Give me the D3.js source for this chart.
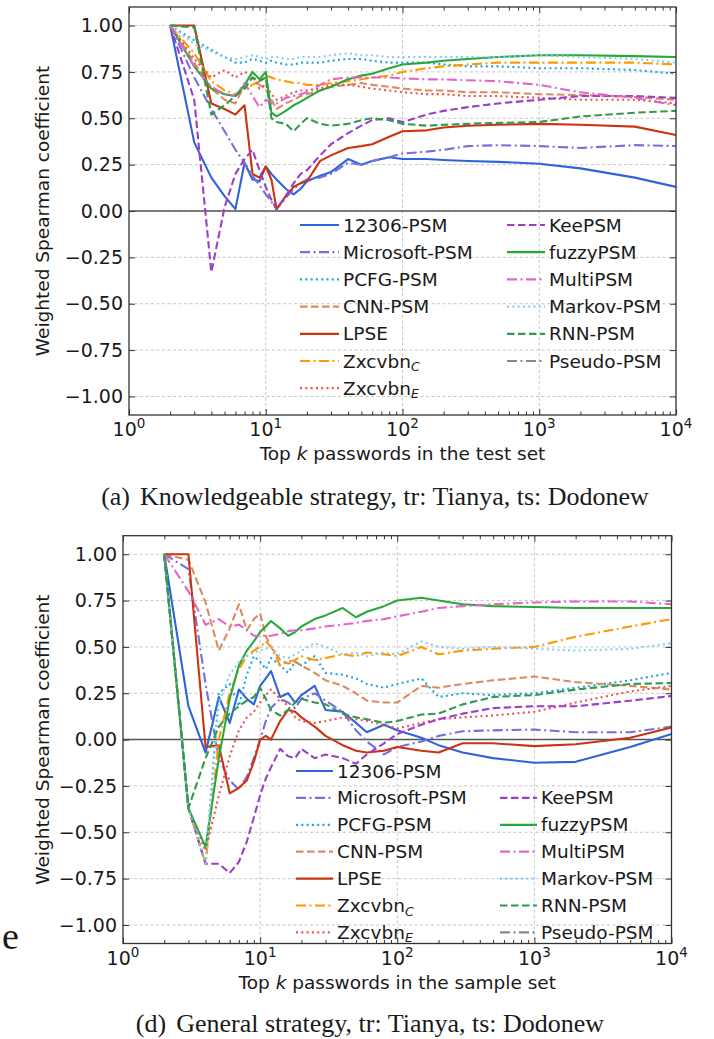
<!DOCTYPE html>
<html>
<head>
<meta charset="utf-8">
<script src="https://cdn.jsdelivr.net/npm/d3@7"></script>
<style>
  body { margin: 0; background: #fff; }
  svg { display: block; }
  text { font-family: "DejaVu Sans", sans-serif; fill: #1a1a1a; }
</style>
</head>
<body>
<svg id="chart" width="714" height="1039"></svg>
<script>
// ---- data ----
const kValues = [2, 3, 4, 5, 6, 7, 8, 9, 10, 11, 12, 14, 16, 18, 20, 25, 30, 40, 50, 60, 80, 100, 150, 200, 300, 500, 1000, 2000, 5000, 10000];
const seriesNames = ["12306-PSM", "Microsoft-PSM", "PCFG-PSM", "CNN-PSM", "LPSE", "Zxcvbn_C", "Zxcvbn_E",
  "KeePSM", "fuzzyPSM", "MultiPSM", "Markov-PSM", "RNN-PSM", "Pseudo-PSM"];
const xTicks = [1, 10, 100, 1000, 10000];
const yTicks = [-1, -0.75, -0.5, -0.25, 0, 0.25, 0.5, 0.75, 1];

// (a) knowledgeable strategy
const a12306 = [1.00, 0.37, 0.18, 0.08, 0.01, 0.26, 0.17, 0.16, 0.24, 0.20, 0.17, 0.12, 0.09, 0.12, 0.16, 0.19, 0.21, 0.28, 0.25, 0.27, 0.29, 0.28, 0.28, 0.275, 0.27, 0.265, 0.255, 0.23, 0.18, 0.13];
const aMicrosoft = [1.00, 0.72, 0.55, 0.43, 0.33, 0.26, 0.19, 0.14, 0.09, 0.05, 0.01, 0.07, 0.12, 0.15, 0.17, 0.18, 0.20, 0.26, 0.25, 0.27, 0.29, 0.31, 0.32, 0.33, 0.35, 0.355, 0.35, 0.34, 0.355, 0.35];
const aPCFG = [1.00, 0.92, 0.87, 0.83, 0.80, 0.80, 0.82, 0.81, 0.80, 0.81, 0.80, 0.79, 0.79, 0.80, 0.80, 0.80, 0.81, 0.82, 0.82, 0.81, 0.80, 0.80, 0.80, 0.79, 0.78, 0.78, 0.77, 0.77, 0.76, 0.74];
const aCNN = [1.00, 0.80, 0.66, 0.60, 0.58, 0.68, 0.72, 0.68, 0.66, 0.60, 0.55, 0.58, 0.60, 0.62, 0.63, 0.65, 0.67, 0.68, 0.69, 0.68, 0.67, 0.66, 0.65, 0.65, 0.64, 0.64, 0.63, 0.625, 0.615, 0.60];
const aLPSE = [1.00, 1.00, 0.58, 0.55, 0.52, 0.57, 0.20, 0.18, 0.24, 0.17, 0.01, 0.08, 0.13, 0.15, 0.16, 0.27, 0.30, 0.34, 0.35, 0.36, 0.40, 0.43, 0.435, 0.45, 0.46, 0.465, 0.47, 0.465, 0.455, 0.41];
const aZxcvbnC = [1.00, 0.85, 0.70, 0.65, 0.63, 0.66, 0.68, 0.70, 0.73, 0.72, 0.71, 0.70, 0.69, 0.69, 0.68, 0.68, 0.69, 0.70, 0.71, 0.72, 0.73, 0.75, 0.77, 0.78, 0.79, 0.80, 0.80, 0.80, 0.80, 0.79];
const aZxcvbnE = [1.00, 0.82, 0.72, 0.76, 0.72, 0.75, 0.73, 0.66, 0.68, 0.63, 0.60, 0.62, 0.64, 0.65, 0.65, 0.66, 0.68, 0.68, 0.67, 0.66, 0.65, 0.64, 0.63, 0.63, 0.62, 0.62, 0.61, 0.60, 0.60, 0.58];
const aKee = [1.00, 0.60, -0.33, 0.02, 0.20, 0.28, 0.33, 0.22, 0.13, 0.06, 0.01, 0.08, 0.15, 0.20, 0.22, 0.30, 0.36, 0.42, 0.46, 0.49, 0.50, 0.48, 0.52, 0.54, 0.56, 0.58, 0.60, 0.62, 0.62, 0.61];
const aFuzzy = [1.00, 0.78, 0.66, 0.63, 0.62, 0.68, 0.75, 0.71, 0.75, 0.53, 0.51, 0.54, 0.57, 0.59, 0.61, 0.65, 0.67, 0.71, 0.73, 0.74, 0.77, 0.79, 0.80, 0.81, 0.82, 0.83, 0.84, 0.84, 0.835, 0.83];
const aMulti = [1.00, 0.78, 0.67, 0.63, 0.62, 0.69, 0.62, 0.56, 0.60, 0.58, 0.58, 0.61, 0.62, 0.63, 0.64, 0.68, 0.71, 0.72, 0.72, 0.72, 0.72, 0.715, 0.71, 0.71, 0.705, 0.70, 0.68, 0.64, 0.61, 0.57];
const aMarkov = [1.00, 0.90, 0.86, 0.83, 0.82, 0.83, 0.84, 0.83, 0.82, 0.83, 0.83, 0.82, 0.82, 0.83, 0.83, 0.83, 0.84, 0.85, 0.84, 0.84, 0.83, 0.83, 0.83, 0.83, 0.83, 0.83, 0.84, 0.83, 0.82, 0.80];
const aRNN = [1.00, 0.99, 0.52, 0.57, 0.62, 0.66, 0.72, 0.70, 0.72, 0.50, 0.48, 0.47, 0.43, 0.47, 0.50, 0.47, 0.46, 0.47, 0.49, 0.50, 0.49, 0.47, 0.46, 0.465, 0.47, 0.475, 0.48, 0.51, 0.53, 0.54];
const aPseudo = [];

// (d) general strategy
const d12306 = [1.00, 0.18, -0.07, 0.23, 0.09, 0.27, 0.22, 0.19, 0.29, 0.33, 0.37, 0.23, 0.25, 0.20, 0.24, 0.29, 0.16, 0.15, 0.09, 0.04, 0.08, 0.05, 0.01, -0.03, -0.07, -0.10, -0.125, -0.12, -0.04, 0.03];
const dMicrosoft = [1.00, 0.92, 0.30, -0.10, -0.22, -0.27, -0.20, -0.10, 0.00, 0.10, 0.17, 0.22, 0.20, 0.17, 0.22, 0.25, 0.21, 0.15, 0.05, -0.01, -0.08, -0.04, -0.01, 0.02, 0.045, 0.05, 0.054, 0.04, 0.04, 0.07];
const dPCFG = [1.00, -0.37, -0.67, 0.25, 0.30, 0.18, 0.35, 0.45, 0.42, 0.38, 0.44, 0.40, 0.36, 0.42, 0.40, 0.45, 0.36, 0.35, 0.33, 0.30, 0.28, 0.30, 0.33, 0.23, 0.25, 0.24, 0.25, 0.28, 0.32, 0.36];
const dCNN = [1.00, 0.97, 0.74, 0.48, 0.60, 0.73, 0.59, 0.65, 0.68, 0.56, 0.50, 0.43, 0.41, 0.42, 0.40, 0.36, 0.32, 0.29, 0.25, 0.21, 0.20, 0.20, 0.29, 0.28, 0.30, 0.32, 0.34, 0.31, 0.29, 0.27];
const dLPSE = [1.00, 1.00, -0.04, -0.03, -0.29, -0.26, -0.22, -0.12, 0.00, 0.02, 0.00, 0.10, 0.16, 0.15, 0.12, 0.07, 0.02, -0.03, -0.06, -0.07, -0.06, -0.04, -0.06, -0.07, -0.02, -0.02, -0.035, -0.025, 0.01, 0.065];
const dZxcvbnC = [1.00, -0.37, -0.67, 0.00, 0.25, 0.38, 0.45, 0.48, 0.50, 0.53, 0.50, 0.40, 0.42, 0.43, 0.45, 0.43, 0.44, 0.46, 0.45, 0.47, 0.46, 0.45, 0.50, 0.46, 0.48, 0.49, 0.50, 0.555, 0.61, 0.65];
const dZxcvbnE = [1.00, -0.37, -0.60, -0.30, -0.09, 0.05, 0.12, 0.15, 0.20, 0.24, 0.27, 0.22, 0.18, 0.12, 0.10, 0.09, 0.10, 0.12, 0.11, 0.10, 0.08, 0.06, 0.09, 0.11, 0.12, 0.13, 0.15, 0.20, 0.26, 0.29];
const dKee = [1.00, -0.37, -0.67, -0.67, -0.72, -0.66, -0.55, -0.42, -0.30, -0.21, -0.15, -0.05, -0.09, -0.10, -0.05, -0.10, -0.08, -0.10, -0.13, -0.08, -0.02, 0.03, 0.08, 0.11, 0.14, 0.17, 0.18, 0.18, 0.21, 0.235];
const dFuzzy = [1.00, -0.37, -0.58, -0.10, 0.22, 0.40, 0.48, 0.53, 0.58, 0.61, 0.64, 0.60, 0.56, 0.58, 0.61, 0.65, 0.67, 0.71, 0.66, 0.69, 0.72, 0.75, 0.765, 0.75, 0.73, 0.72, 0.715, 0.71, 0.71, 0.71];
const dMulti = [1.00, 0.80, 0.62, 0.65, 0.61, 0.62, 0.59, 0.56, 0.56, 0.56, 0.56, 0.57, 0.585, 0.59, 0.59, 0.60, 0.61, 0.62, 0.63, 0.64, 0.65, 0.665, 0.69, 0.71, 0.72, 0.73, 0.74, 0.745, 0.745, 0.73];
const dMarkov = [1.00, -0.37, -0.67, 0.20, 0.35, 0.42, 0.45, 0.47, 0.48, 0.49, 0.50, 0.45, 0.44, 0.46, 0.48, 0.52, 0.50, 0.46, 0.47, 0.45, 0.47, 0.46, 0.53, 0.50, 0.49, 0.50, 0.49, 0.48, 0.49, 0.52];
const dRNN = [1.00, -0.37, -0.10, 0.07, 0.14, 0.18, 0.21, 0.23, 0.28, 0.22, 0.16, 0.13, 0.16, 0.20, 0.22, 0.20, 0.19, 0.14, 0.12, 0.11, 0.09, 0.10, 0.135, 0.14, 0.19, 0.23, 0.24, 0.27, 0.30, 0.305];
const dPseudo = [];

// ---- styles ----
const DASH = "7.5,3.5", DASHDOT = "10,3.5,2,3.5", DOT = "2,3.3";
const seriesStyles = [
	{ color: "#3163d8", dash: null },
	{ color: "#7471d9", dash: DASHDOT },
	{ color: "#1fa3e0", dash: DOT },
	{ color: "#d98c5f", dash: DASH },
	{ color: "#cc3311", dash: null },
	{ color: "#ff9900", dash: DASHDOT },
	{ color: "#f05050", dash: DOT },
	{ color: "#9b3ec8", dash: DASH },
	{ color: "#27a83a", dash: null },
	{ color: "#e366c7", dash: DASHDOT },
	{ color: "#85cdf0", dash: DOT },
	{ color: "#2f9a50", dash: DASH },
	{ color: "#888888", dash: DASHDOT }
];

const panels = [
	{
		id: "a", left: 129, right: 676, top: 7, bottom: 415,
		series: [a12306, aMicrosoft, aPCFG, aCNN, aLPSE, aZxcvbnC, aZxcvbnE, aKee, aFuzzy, aMulti, aMarkov, aRNN, aPseudo],
		xLabel: " passwords in the test set",
		legendY0: 225, legendGap: 27.2, col2Start: 0,
		col1: [300, 339, 343], col2: [507, 545, 549],
		caption: "(a)", captionText: "Knowledgeable strategy, tr: Tianya, ts: Dodonew",
		captionX: 375, captionY: 505
	},
	{
		id: "d", left: 123, right: 671.5, top: 535.7, bottom: 943.5,
		series: [d12306, dMicrosoft, dPCFG, dCNN, dLPSE, dZxcvbnC, dZxcvbnE, dKee, dFuzzy, dMulti, dMarkov, dRNN, dPseudo],
		xLabel: " passwords in the sample set",
		legendY0: 771, legendGap: 26.9, col2Start: 1,
		col1: [296, 333, 337], col2: [500, 537, 541],
		caption: "(d)", captionText: "General strategy, tr: Tianya, ts: Dodonew",
		captionX: 370, captionY: 1032
	}
];

const svg = d3.select( "#chart" );
svg.append( "rect" ).attr( "width", 714 ).attr( "height", 1039 ).attr( "fill", "#fff" );

const minorTicks = [];
for ( let e = 0; e < 4; e++ ) {
	for ( let m = 2; m < 10; m++ ) minorTicks.push( m * Math.pow( 10, e ) );
}

function drawPanel( p ) {
	const x = d3.scaleLog().domain( [ 1, 10000 ] ).range( [ p.left, p.right ] );
	const y = d3.scaleLinear().domain( [ -1.1, 1.1 ] ).range( [ p.bottom, p.top ] );
	const g = svg.append( "g" );

	svg.append( "clipPath" ).attr( "id", "clip-" + p.id )
		.append( "rect" )
		.attr( "x", p.left ).attr( "y", p.top )
		.attr( "width", p.right - p.left ).attr( "height", p.bottom - p.top );

	// grid
	g.append( "g" ).selectAll( "line" ).data( yTicks ).join( "line" )
		.attr( "x1", p.left ).attr( "x2", p.right )
		.attr( "y1", d => y( d ) ).attr( "y2", d => y( d ) )
		.attr( "stroke", "#b8b8b8" ).attr( "stroke-width", 0.8 ).attr( "stroke-dasharray", "3,2.5" );
	g.append( "g" ).selectAll( "line" ).data( xTicks.slice( 1, -1 ) ).join( "line" )
		.attr( "x1", d => x( d ) ).attr( "x2", d => x( d ) )
		.attr( "y1", p.top ).attr( "y2", p.bottom )
		.attr( "stroke", "#b8b8b8" ).attr( "stroke-width", 0.8 ).attr( "stroke-dasharray", "3,2.5" );

	// zero line
	g.append( "line" )
		.attr( "x1", p.left ).attr( "x2", p.right )
		.attr( "y1", y( 0 ) ).attr( "y2", y( 0 ) )
		.attr( "stroke", "#555" ).attr( "stroke-width", 1.5 );

	// lines
	const line = d3.line().x( d => x( d.k ) ).y( d => y( d.v ) );
	const lines = g.append( "g" ).attr( "clip-path", "url(#clip-" + p.id + ")" );
	p.series.forEach( ( vals, i ) => {
		if ( !vals.length ) return;
		const pts = vals.map( ( v, j ) => ( { k: kValues[ j ], v: v } ) );
		lines.append( "path" ).datum( pts )
			.attr( "d", line )
			.attr( "fill", "none" )
			.attr( "stroke", seriesStyles[ i ].color )
			.attr( "stroke-width", 2.1 )
			.attr( "stroke-linejoin", "round" )
			.attr( "stroke-dasharray", seriesStyles[ i ].dash );
	} );

	// ticks (inward, all sides)
	const tickStyle = sel => {
		sel.select( ".domain" ).remove();
		sel.selectAll( ".tick line" ).attr( "stroke", "#333" ).attr( "stroke-width", 1 );
	};
	g.append( "g" ).attr( "transform", `translate(0,${ p.bottom })` )
		.call( d3.axisBottom( x ).tickValues( xTicks ).tickSize( -6 ).tickFormat( "" ) ).call( tickStyle );
	g.append( "g" ).attr( "transform", `translate(0,${ p.bottom })` )
		.call( d3.axisBottom( x ).tickValues( minorTicks ).tickSize( -3.5 ).tickFormat( "" ) ).call( tickStyle );
	g.append( "g" ).attr( "transform", `translate(0,${ p.top })` )
		.call( d3.axisTop( x ).tickValues( xTicks ).tickSize( -6 ).tickFormat( "" ) ).call( tickStyle );
	g.append( "g" ).attr( "transform", `translate(0,${ p.top })` )
		.call( d3.axisTop( x ).tickValues( minorTicks ).tickSize( -3.5 ).tickFormat( "" ) ).call( tickStyle );
	g.append( "g" ).attr( "transform", `translate(${ p.left },0)` )
		.call( d3.axisLeft( y ).tickValues( yTicks ).tickSize( -6 ).tickPadding( 6 ).tickFormat( d3.format( ".2f" ) ) )
		.call( tickStyle )
		.selectAll( "text" ).attr( "font-size", 19 ).attr( "font-family", "DejaVu Sans" ).attr( "fill", "#1a1a1a" );
	g.append( "g" ).attr( "transform", `translate(${ p.right },0)` )
		.call( d3.axisRight( y ).tickValues( yTicks ).tickSize( -6 ).tickFormat( "" ) ).call( tickStyle );

	// frame
	g.append( "rect" )
		.attr( "x", p.left ).attr( "y", p.top )
		.attr( "width", p.right - p.left ).attr( "height", p.bottom - p.top )
		.attr( "fill", "none" ).attr( "stroke", "#333" ).attr( "stroke-width", 1.3 );

	// x tick labels 10^n
	const xl = g.append( "g" ).selectAll( "text" ).data( xTicks ).join( "text" )
		.attr( "x", d => x( d ) ).attr( "y", p.bottom + 21 )
		.attr( "text-anchor", "middle" ).attr( "font-size", 19 );
	xl.append( "tspan" ).text( "10" );
	xl.append( "tspan" ).attr( "dy", -8 ).attr( "font-size", 13.5 ).text( d => Math.round( Math.log10( d ) ) );

	// axis labels
	const xt = g.append( "text" )
		.attr( "x", ( p.left + p.right ) / 2 ).attr( "y", p.bottom + 45 )
		.attr( "text-anchor", "middle" ).attr( "font-size", 18.5 );
	xt.append( "tspan" ).text( "Top " );
	xt.append( "tspan" ).attr( "font-style", "italic" ).text( "k" );
	xt.append( "tspan" ).text( p.xLabel );

	g.append( "text" )
		.attr( "transform", `translate(49,${ y( 0 ) }) rotate(-90)` )
		.attr( "text-anchor", "middle" ).attr( "font-size", 18.5 )
		.text( "Weighted Spearman coefficient" );

	// legend
	const leg = g.append( "g" );
	seriesNames.forEach( ( name, i ) => {
		const col = i < 7 ? p.col1 : p.col2;
		const row = i < 7 ? i : i - 7 + p.col2Start;
		const ly = p.legendY0 + row * p.legendGap;
		leg.append( "line" )
			.attr( "x1", col[ 0 ] ).attr( "x2", col[ 1 ] ).attr( "y1", ly ).attr( "y2", ly )
			.attr( "stroke", seriesStyles[ i ].color ).attr( "stroke-width", 2.2 )
			.attr( "stroke-dasharray", seriesStyles[ i ].dash );
		const parts = name.split( "_" );
		const t = leg.append( "text" ).attr( "x", col[ 2 ] ).attr( "y", ly + 6.5 ).attr( "font-size", 18.5 );
		t.append( "tspan" ).text( parts[ 0 ] );
		if ( parts[ 1 ] ) {
			t.append( "tspan" ).attr( "dy", 3.5 ).attr( "font-size", 12.5 ).attr( "font-style", "italic" ).text( parts[ 1 ] );
		}
	} );

	// caption
	const c = g.append( "text" )
		.attr( "x", p.captionX ).attr( "y", p.captionY )
		.attr( "text-anchor", "middle" ).attr( "font-size", 26 )
		.style( "font-family", "'Liberation Serif', serif" );
	c.append( "tspan" ).text( p.caption );
	c.append( "tspan" ).attr( "dx", 10 ).text( p.captionText );
}

panels.forEach( drawPanel );

// stray glyph cut at the left edge of the page
svg.append( "text" ).attr( "x", 2 ).attr( "y", 949 ).attr( "font-size", 38 )
	.style( "font-family", "'Liberation Serif', serif" ).text( "e" );
</script>
</body>
</html>
